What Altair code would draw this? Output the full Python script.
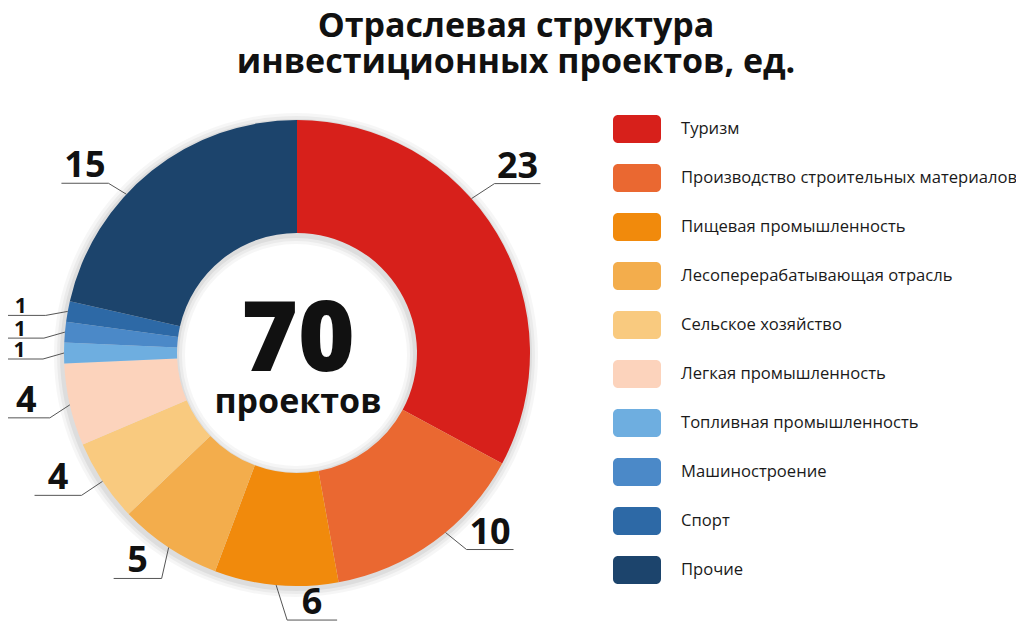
import math
import altair as alt
import pandas as pd

# ---------------- data ----------------
categories = [
    "Туризм",
    "Производство строительных материалов",
    "Пищевая промышленность",
    "Лесоперерабатывающая отрасль",
    "Сельское хозяйство",
    "Легкая промышленность",
    "Топливная промышленность",
    "Машиностроение",
    "Спорт",
    "Прочие",
]
values = [23, 10, 6, 5, 4, 4, 1, 1, 1, 15]
colors = ["#D7201B", "#EA6831", "#F18A0C", "#F3AD4C", "#F9CA7F",
          "#FCD3BC", "#6EAEE0", "#4B89C8", "#2D69A6", "#1C446C"]
title_lines = ["Отраслевая структура", "инвестиционных проектов, ед."]
center_caption = "проектов"

# ---------------- layout (pixels inside the plot area) ----------------
W, H = 1008, 614
CX, CY = 289, 345
R_OUT, R_IN = 233, 120
FONT = "Open Sans"

# per-slice leader layout: (anchor fraction within slice, elbow dx, elbow dy, horizontal run, font size)
leader_layout = [
    (0.41, 23, -15, 46, 36),
    (0.43, 21, 17, 47, 36),
    (0.50, 11, 35, 50, 36),
    (0.50, -7, 31, -48, 36),
    (0.50, -21, 14, -47, 36),
    (0.50, -20, 13, -47, 36),
    (0.50, -21, 6, -47, 21),
    (0.50, -21, 6, -48, 21),
    (0.50, -22, 4, -50, 21),
    (0.39, -18, -11, -47, 36),
]

total = sum(values)
df = pd.DataFrame({"category": categories, "value": values, "idx": list(range(len(values)))})

# leader lines & value labels computed from the data (slice angles)
seg_rows, lab_rows = [], []
cum = 0
for i, v in enumerate(values):
    frac, edx, edy, run, fs = leader_layout[i]
    ang = 2 * math.pi * (cum + frac * v) / total
    cum += v
    sx = CX + R_OUT * math.sin(ang)
    sy = CY - R_OUT * math.cos(ang)
    ex, ey = sx + edx, sy + edy
    hx = ex + run
    seg_rows.append({"x": sx, "y": sy, "x2": ex, "y2": ey})
    seg_rows.append({"x": ex, "y": ey, "x2": hx, "y2": ey})
    lab_rows.append({"x": (ex + hx) / 2, "y": ey - (6 if fs > 30 else 2),
                     "text": str(v), "fs": fs})
seg_df = pd.DataFrame(seg_rows)
lab_df = pd.DataFrame(lab_rows)

# legend rows
LEG_Y0, LEG_STEP = 121, 49
leg_df = df.copy()
leg_df["cy"] = LEG_Y0 + LEG_STEP * leg_df["idx"]
leg_df["y1"] = leg_df["cy"] - 14
leg_df["y2"] = leg_df["cy"] + 14
leg_df["x1"] = 605
leg_df["x2"] = 653
leg_df["tx"] = 673

color_scale = alt.Scale(domain=categories, range=colors)

# soft shadow rings behind the donut (full circle = total)
shadow_layers = []
for k, op in [(9, 0.035), (6, 0.045), (3, 0.06)]:
    shadow_layers.append(
        alt.Chart(pd.DataFrame({"value": [total]})).mark_arc(
            innerRadius=R_IN - k, outerRadius=R_OUT + k, color="#000000", opacity=op
        ).encode(theta=alt.Theta("value:Q", stack=True), x=alt.value(CX - 1), y=alt.value(CY + 2))
    )

arc = alt.Chart(df).mark_arc(innerRadius=R_IN, outerRadius=R_OUT).encode(
    theta=alt.Theta("value:Q", stack=True),
    order=alt.Order("idx:Q"),
    color=alt.Color("category:N", scale=color_scale, legend=None),
    x=alt.value(CX),
    y=alt.value(CY),
)

lines = alt.Chart(seg_df).mark_rule(color="#555555", strokeWidth=1).encode(
    x=alt.X("x:Q", scale=None, axis=None),
    y=alt.Y("y:Q", scale=None, axis=None),
    x2="x2:Q",
    y2="y2:Q",
)

labels = alt.Chart(lab_df).mark_text(
    font=FONT, fontWeight="bold", color="#111111", align="center", baseline="alphabetic"
).encode(
    x=alt.X("x:Q", scale=None, axis=None),
    y=alt.Y("y:Q", scale=None, axis=None),
    text="text:N",
    size=alt.Size("fs:Q", scale=None, legend=None),
)

center_num = alt.Chart(pd.DataFrame({"t": [str(total)]})).mark_text(
    font=FONT, fontWeight=800, fontSize=97, color="#111111", align="center", baseline="alphabetic"
).encode(x=alt.value(CX + 1), y=alt.value(CY + 18), text="t:N")

center_cap = alt.Chart(pd.DataFrame({"t": [center_caption]})).mark_text(
    font=FONT, fontWeight="bold", fontSize=34, color="#111111", align="center", baseline="alphabetic"
).encode(x=alt.value(CX + 1), y=alt.value(CY + 60), text="t:N")

title_df = pd.DataFrame({"t": title_lines, "ty": [29, 65]})
title = alt.Chart(title_df).mark_text(
    font=FONT, fontWeight="bold", fontSize=34, color="#111111", align="center", baseline="alphabetic"
).encode(x=alt.value(508), y=alt.Y("ty:Q", scale=None, axis=None), text="t:N")

leg_rect = alt.Chart(leg_df).mark_rect(cornerRadius=5).encode(
    x=alt.X("x1:Q", scale=None, axis=None),
    x2="x2:Q",
    y=alt.Y("y1:Q", scale=None, axis=None),
    y2="y2:Q",
    color=alt.Color("category:N", scale=color_scale, legend=None),
)

leg_text = alt.Chart(leg_df).mark_text(
    font=FONT, fontSize=16.6, color="#1a1a1a", align="left", baseline="middle"
).encode(
    x=alt.X("tx:Q", scale=None, axis=None),
    y=alt.Y("cy:Q", scale=None, axis=None),
    text="category:N",
)

chart = alt.layer(*shadow_layers, arc, lines, labels, center_num, center_cap, title, leg_rect, leg_text).properties(
    width=W, height=H, padding=0, autosize=alt.AutoSizeParams(type="none")
).configure_view(stroke=None)

chart.save("out.html", embed_options={"renderer": "svg", "actions": False})
